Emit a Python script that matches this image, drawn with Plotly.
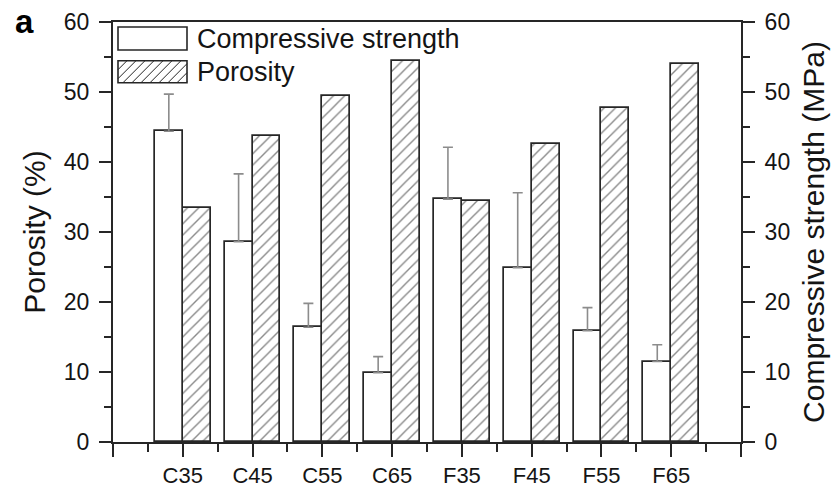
import plotly.graph_objects as go

categories = ["C35", "C45", "C55", "C65", "F35", "F45", "F55", "F65"]
compressive_strength = [44.4, 28.6, 16.4, 9.9, 34.7, 24.9, 15.9, 11.5]
compressive_err = [5.3, 9.7, 3.4, 2.3, 7.4, 10.7, 3.3, 2.4]
porosity = [33.4, 43.7, 49.5, 54.5, 34.5, 42.6, 47.7, 54.0]
y_ticks = [0, 10, 20, 30, 40, 50, 60]

xpos = [i + 1 for i in range(len(categories))]

FONT = "Liberation Sans, Arial, sans-serif"
INK = "#141414"
LINE = "#262626"

fig = go.Figure()
fig.add_trace(go.Bar(
    x=xpos, y=compressive_strength, name="Compressive strength",
    width=0.4, offset=-0.4, yaxis="y2",
    marker=dict(color="white", line=dict(color=LINE, width=1.7)),
    error_y=dict(type="data", symmetric=False, array=compressive_err,
                 arrayminus=[0] * len(compressive_err),
                 color="#8c8c8c", thickness=1.6, width=5),
    showlegend=False,
))
fig.add_trace(go.Bar(
    x=xpos, y=porosity, name="Porosity",
    width=0.4, offset=0.0,
    marker=dict(color="white", line=dict(color=LINE, width=1.7),
                pattern=dict(shape="/", fgcolor="#111111", bgcolor="white",
                             size=8, solidity=0.17)),
    showlegend=False,
))

# Page body margin is removed (see post_script), so figure == window.
OFF = 0
W, H = 833, 488
ML, MR, MT, MB = 113, 92, 22, 46
PW, PH = W - ML - MR, H - MT - MB

def px(x):
    """window pixel x -> paper x"""
    return (x - OFF - ML) / PW

def py(y):
    """window pixel y -> paper y"""
    return (H - MB - (y - OFF)) / PH

shapes = []
# legend box 1 (plain)
shapes.append(dict(type="rect", xref="paper", yref="paper",
                   x0=px(118), x1=px(187), y0=py(50), y1=py(27),
                   line=dict(color=LINE, width=1.6), fillcolor="white"))
# legend box 2 (hatched)
bx0, bx1, by0, by1 = 118, 187, 60.7, 82.7
shapes.append(dict(type="rect", xref="paper", yref="paper",
                   x0=px(bx0), x1=px(bx1), y0=py(by1), y1=py(by0),
                   line=dict(color=LINE, width=1.6), fillcolor="white"))
hgt = by1 - by0
step = 9.0
segs = []
k = bx0 - hgt
while k < bx1:
    xa, ya = k, by1
    xb, yb = k + hgt, by0
    if xa < bx0:
        ya = by1 - (bx0 - xa)
        xa = bx0
    if xb > bx1:
        yb = by0 + (xb - bx1)
        xb = bx1
    if xb > xa:
        segs.append(f"M{px(xa):.5f},{py(ya):.5f} L{px(xb):.5f},{py(yb):.5f}")
    k += step
shapes.append(dict(type="path", xref="paper", yref="paper", path=" ".join(segs),
                   line=dict(color="#222222", width=1)))

annotations = [
    dict(text="Compressive strength", xref="paper", yref="paper",
         x=px(195), y=py(39), xanchor="left", yanchor="middle",
         showarrow=False, font=dict(size=27, color=INK, family=FONT)),
    dict(text="Porosity", xref="paper", yref="paper",
         x=px(195), y=py(72), xanchor="left", yanchor="middle",
         showarrow=False, font=dict(size=27, color=INK, family=FONT)),
    dict(text="<b>a</b>", xref="paper", yref="paper",
         x=px(13), y=py(21), xanchor="left", yanchor="middle",
         showarrow=False, font=dict(size=33, color="black", family=FONT)),
]

tick_common = dict(ticks="outside", tickwidth=2, tickcolor=LINE,
                   showline=True, linewidth=2, linecolor=LINE,
                   showgrid=False, zeroline=False, automargin=False)

fig.update_layout(
    width=W, height=H,
    margin=dict(l=ML, r=MR, t=MT, b=MB),
    paper_bgcolor="white", plot_bgcolor="white",
    barmode="overlay", bargap=0,
    shapes=shapes, annotations=annotations,
    xaxis=dict(range=[0, 9], tickvals=list(range(0, 10)),
               ticktext=[""] + categories + [""],
               ticklen=13, mirror=True, ticklabelstandoff=0,
               tickfont=dict(size=22, color=INK, family=FONT),
               minor=dict(dtick=0.5, tick0=0, ticks="outside", ticklen=8,
                          tickwidth=2, tickcolor=LINE),
               **tick_common),
    yaxis=dict(range=[0, 60], tickvals=y_ticks, ticklen=12,
               ticklabelstandoff=5,
               tickfont=dict(size=23, color=INK, family=FONT),
               minor=dict(dtick=5, ticks="outside", ticklen=7,
                          tickwidth=2, tickcolor=LINE),
               title=dict(text="Porosity (%)", standoff=9,
                          font=dict(size=30, color=INK, family=FONT)),
               **tick_common),
    yaxis2=dict(range=[0, 60], tickvals=y_ticks, ticklen=12,
                overlaying="y", side="right", ticklabelstandoff=5,
                tickfont=dict(size=23, color=INK, family=FONT),
                minor=dict(dtick=5, ticks="outside", ticklen=7,
                           tickwidth=2, tickcolor=LINE),
                title=dict(text="Compressive strength (MPa)", standoff=14,
                           font=dict(size=30, color=INK, family=FONT)),
                **tick_common),
)

fig.write_html(
    "out.html",
    config={"displayModeBar": False},
    post_script="document.body.style.margin='0';document.body.style.overflow='hidden';",
)
